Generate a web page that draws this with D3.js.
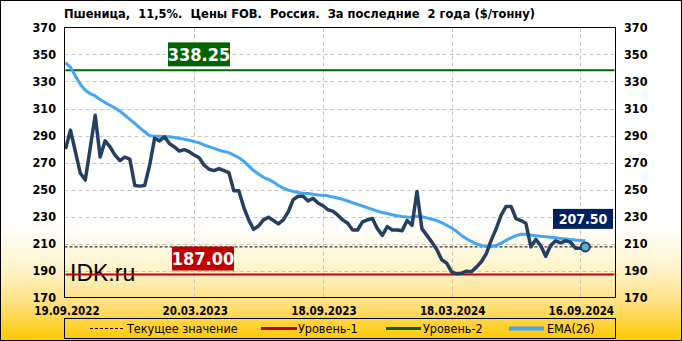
<!DOCTYPE html>
<html>
<head>
<meta charset="utf-8">
<script src="https://cdn.jsdelivr.net/npm/d3@7"></script>
<style>
  body { margin: 0; }
  svg { display: block; }
</style>
</head>
<body>
<svg width="682" height="341"></svg>
<script>
// weekly prices, first week = 19.09.2022
const startDate = "2022-09-19";

const price = [
  280, 294, 278, 262, 257, 281, 305, 274, 286, 281.5,
  275.5, 271.5, 274, 272.5, 253, 252.5, 253, 268, 288, 286,
  289, 284, 281.5, 278.5, 279.5, 278, 275.5, 273.5, 268, 265,
  264, 265.5, 264, 262.5, 249, 249, 237, 227.5, 220.5, 223,
  227.5, 229.5, 227, 224.5, 227.5, 233.5, 242.5, 245, 245, 241.5,
  243.5, 240, 238, 235, 234, 231, 227.5, 225, 220, 220,
  226, 227.5, 228.5, 221, 216, 222.5, 220, 220, 219.5, 227,
  223.5, 248.5, 221, 216, 211, 205.5, 198, 195.5, 189, 187.5,
  188, 189.5, 189, 192.5, 196.5, 202.5, 212.5, 221, 231, 237.5,
  237.5, 228.5, 227, 225, 207.5, 213, 208.5, 200.5, 208.5, 212,
  210.5, 212, 211, 206.5, 206.5, 207.5
];

const ema = [
  344, 340.5, 334, 328, 323.5, 321, 319.3, 316.7, 314.4, 312.4,
  310.4, 308, 305, 302, 299, 295.7, 292.8, 289.8, 289.5, 289.5,
  289.3, 289, 288.5, 288, 287.2, 286.5, 285.5, 284.5, 283, 281.8,
  280.5, 279.2, 278.2, 277.3, 275.5, 273.5, 271, 267.5, 264, 261.5,
  259, 257.5, 255.5, 253, 251, 249.5, 248.5, 247.8, 247.2, 247,
  246.5, 246, 245.7, 245.3, 244.5, 243.7, 242.7, 241.5, 240.2, 239,
  237.8, 236.5, 235.3, 234, 233, 232.2, 231.3, 230.6, 230, 229.6,
  229.4, 230.2, 229.8, 229, 228, 227, 225.5, 223.5, 221.5, 219,
  216, 213.5, 211.5, 209.8, 208.5, 207.8, 207.6, 208.5, 210.3, 212.3,
  214.2, 215.8, 216.8, 216.9, 216.3, 215.8, 215.3, 215, 214.6, 214.2,
  213.8, 213.4, 213, 212.6, 212.3, 212
];

const level1 = 187.00;
const level2 = 338.25;
const current = 207.50;

const yTicks = [170, 190, 210, 230, 250, 270, 290, 310, 330, 350, 370];
const xTickDates = ["2022-09-19", "2023-03-20", "2023-09-18", "2024-03-18", "2024-09-16"];
const xTickLabels = ["19.09.2022", "20.03.2023", "18.09.2023", "18.03.2024", "16.09.2024"];

const title = "Пшеница,  11,5%.  Цены FOB.  Россия.  За последние  2 года ($/тонну)";
const legendLabels = ["Текущее значение", "Уровень-1", "Уровень-2", "EMA(26)"];

const W = 682, H = 341;
const plot = { left: 64.5, right: 615.5, top: 27.5, bottom: 297.5 };

const svg = d3.select("svg");
const parse = d3.utcParse("%Y-%m-%d");
const t0 = parse(startDate);
const dates = price.map((d, i) => d3.utcWeek.offset(t0, i));

const x = d3.scaleUtc()
  .domain([t0, d3.utcWeek.offset(t0, 111)])
  .range([65.5, 615]);
const y = d3.scaleLinear().domain([170, 370]).range([plot.bottom, plot.top]);

// background gradient
const defs = svg.append("defs");
const grad = defs.append("linearGradient")
  .attr("id", "bg").attr("x1", 0).attr("y1", 0).attr("x2", 0).attr("y2", 1);
grad.append("stop").attr("offset", "0%").attr("stop-color", "#ffffff");
grad.append("stop").attr("offset", "66%").attr("stop-color", "#ffffff");
grad.append("stop").attr("offset", "80%").attr("stop-color", "#fef2c4");
grad.append("stop").attr("offset", "89%").attr("stop-color", "#fee07e");
grad.append("stop").attr("offset", "100%").attr("stop-color", "#ffc800");

svg.append("rect")
  .attr("x", 0.5).attr("y", 0.5).attr("width", W - 1).attr("height", H - 1)
  .attr("fill", "url(#bg)").attr("stroke", "#000");

// grid
const grid = svg.append("g");
grid.selectAll(".hg")
  .data(yTicks.filter(v => v > 170 && v < 370))
  .join("line")
  .attr("x1", plot.left).attr("x2", plot.right)
  .attr("y1", d => Math.round(y(d)) + 0.5).attr("y2", d => Math.round(y(d)) + 0.5)
  .attr("stroke", "#c4c4c4").attr("stroke-dasharray", "4,3");
grid.selectAll(".vg")
  .data(xTickDates.slice(1))
  .join("line")
  .attr("x1", d => Math.round(x(parse(d))) + 0.5).attr("x2", d => Math.round(x(parse(d))) + 0.5)
  .attr("y1", plot.top).attr("y2", plot.bottom)
  .attr("stroke", "#c4c4c4").attr("stroke-dasharray", "4,3");

// axes labels
const tickFont = "'DejaVu Sans Condensed', 'DejaVu Sans', sans-serif";
svg.append("g").selectAll("text")
  .data(yTicks).join("text")
  .attr("x", 56).attr("y", d => y(d)).attr("dy", "0.34em")
  .attr("text-anchor", "end")
  .attr("font-family", tickFont).attr("font-weight", "bold").attr("font-size", 12.5)
  .text(d => d);
svg.append("g").selectAll("text")
  .data(yTicks).join("text")
  .attr("x", 624).attr("y", d => y(d)).attr("dy", "0.34em")
  .attr("font-family", tickFont).attr("font-weight", "bold").attr("font-size", 12.5)
  .text(d => d);

svg.append("g").selectAll("text")
  .data(xTickDates).join("text")
  .attr("x", (d, i) => i === 0 ? 67 : x(parse(d)) + 1)
  .attr("y", 315)
  .attr("text-anchor", "middle")
  .attr("font-family", tickFont).attr("font-weight", "bold").attr("font-size", 11.5)
  .text((d, i) => xTickLabels[i]);

svg.append("text")
  .attr("x", 64).attr("y", 18)
  .attr("font-family", tickFont).attr("font-weight", "bold").attr("font-size", 12.5)
  .attr("textLength", 471).attr("lengthAdjust", "spacingAndGlyphs")
  .attr("xml:space", "preserve").style("white-space", "pre")
  .text(title);

// watermark
svg.append("text")
  .attr("x", 70).attr("y", 281)
  .attr("font-family", "'Liberation Sans', Arial, sans-serif").attr("font-size", 23)
  .text("IDK.ru");

// level lines
svg.append("line")
  .attr("x1", plot.left).attr("x2", plot.right)
  .attr("y1", y(current)).attr("y2", y(current))
  .attr("stroke", "#000").attr("stroke-dasharray", "3,2");
svg.append("line")
  .attr("x1", plot.left + 1).attr("x2", plot.right - 1)
  .attr("y1", y(level1)).attr("y2", y(level1))
  .attr("stroke", "#c00000").attr("stroke-width", 2);
svg.append("line")
  .attr("x1", plot.left + 1).attr("x2", plot.right - 1)
  .attr("y1", y(level2)).attr("y2", y(level2))
  .attr("stroke", "#006400").attr("stroke-width", 2);

// series
const line = d3.line().x((d, i) => x(dates[i])).y(d => y(d));
svg.append("path").datum(ema)
  .attr("fill", "none").attr("stroke", "#42a5f5").attr("stroke-width", 3)
  .attr("stroke-linejoin", "round").attr("d", line);
svg.append("path").datum(price)
  .attr("fill", "none").attr("stroke", "#243f60").attr("stroke-width", 3.5)
  .attr("stroke-linejoin", "round").attr("d", line);

const last = price.length - 1;
svg.append("circle")
  .attr("cx", x(dates[last])).attr("cy", y(price[last])).attr("r", 4.5)
  .attr("fill", "#5aaed0").attr("stroke", "#243f60").attr("stroke-width", 2);

// frame
svg.append("rect")
  .attr("x", plot.left).attr("y", plot.top)
  .attr("width", plot.right - plot.left).attr("height", plot.bottom - plot.top)
  .attr("fill", "none").attr("stroke", "#000");

// value boxes
const narrow = "'Liberation Sans Narrow', 'DejaVu Sans Condensed', sans-serif";
function valueBox(cx, cy, w, h, fill, txt, size, font, weight) {
  svg.append("rect")
    .attr("x", cx - w / 2).attr("y", cy - h / 2).attr("width", w).attr("height", h)
    .attr("fill", fill);
  svg.append("text")
    .attr("x", cx).attr("y", cy).attr("dy", "0.36em")
    .attr("text-anchor", "middle")
    .attr("fill", "#fff").attr("font-family", font).attr("font-size", size)
    .attr("font-weight", weight)
    .text(txt);
}
valueBox(199, y(level2) - 16, 62, 24, "#006400", level2.toFixed(2), 18, narrow, "bold");
valueBox(203, y(level1) - 16, 62, 24, "#c00000", level1.toFixed(2), 18, narrow, "bold");
valueBox(583, y(current) - 28, 60, 20, "#002060", current.toFixed(2), 14, tickFont, "bold");

// legend
const lg = svg.append("g");
lg.append("rect")
  .attr("x", 64.5).attr("y", 318.5).attr("width", 551).attr("height", 20)
  .attr("fill", "none").attr("stroke", "#000");
const legendItems = [
  { x1: 90, x2: 123, color: "#000", w: 1, dash: "3,2", tx: 127 },
  { x1: 261, x2: 297, color: "#c00000", w: 3, dash: null, tx: 298 },
  { x1: 386, x2: 421, color: "#006400", w: 3, dash: null, tx: 423 },
  { x1: 509, x2: 544, color: "#42a5f5", w: 4, dash: null, tx: 547 }
];
legendItems.forEach((it, i) => {
  lg.append("line")
    .attr("x1", it.x1).attr("x2", it.x2).attr("y1", 328.5).attr("y2", 328.5)
    .attr("stroke", it.color).attr("stroke-width", it.w)
    .attr("stroke-dasharray", it.dash);
  lg.append("text")
    .attr("x", it.tx).attr("y", 328.5).attr("dy", "0.36em")
    .attr("font-family", tickFont).attr("font-size", 12.5)
    .text(legendLabels[i]);
});
</script>
</body>
</html>
